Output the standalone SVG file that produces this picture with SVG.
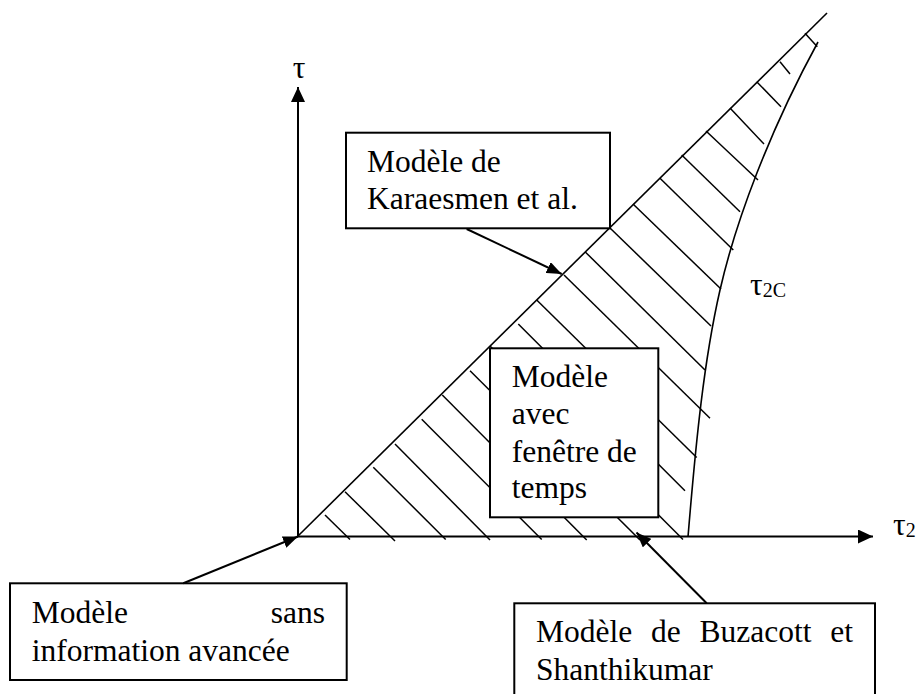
<svg xmlns="http://www.w3.org/2000/svg" width="918" height="694" viewBox="0 0 918 694">
<style>
.t{font-family:"Liberation Serif","Times New Roman",serif;font-size:31.5px;fill:#000}
.s{font-family:"Liberation Serif","Times New Roman",serif;font-size:20px;fill:#000}
.h line{stroke:#000;stroke-width:1.5}
.box{fill:#fff;stroke:#000;stroke-width:2}
.ax{stroke:#000;stroke-width:2;fill:none}
.ln{stroke:#000;stroke-width:1.6;fill:none}
.cn line{stroke:#000;stroke-width:2}
</style>
<defs>
<marker id="ah" markerUnits="userSpaceOnUse" markerWidth="15" markerHeight="14" refX="15" refY="7" orient="auto" viewBox="0 0 15 14"><path d="M0,0 L15,7 L0,14 z" fill="#000"/></marker>
<marker id="ac" markerUnits="userSpaceOnUse" markerWidth="15" markerHeight="12" refX="15" refY="6" orient="auto" viewBox="0 0 15 12"><path d="M0,0 L15,6 L0,12 z" fill="#000"/></marker>
</defs>
<rect width="918" height="694" fill="#fff"/>
<g id="hatching" class="h">
<line x1="325" y1="515" x2="350" y2="539.5"/>
<line x1="345" y1="491.7" x2="395" y2="541"/>
<line x1="373.3" y1="467.3" x2="445.7" y2="539.5"/>
<line x1="395" y1="444" x2="490" y2="540"/>
<line x1="421.7" y1="419.3" x2="541.7" y2="539.5"/>
<line x1="442.3" y1="395" x2="586.7" y2="540"/>
<line x1="470" y1="370.7" x2="640" y2="540"/>
<line x1="490" y1="346" x2="683" y2="539.5"/>
<line x1="518.3" y1="324" x2="685" y2="490.7"/>
<line x1="536.7" y1="300" x2="696.7" y2="457.5"/>
<line x1="564" y1="275" x2="710" y2="418.3"/>
<line x1="585" y1="251.7" x2="705" y2="370"/>
<line x1="610" y1="228" x2="711" y2="326"/>
<line x1="633" y1="204" x2="721" y2="289"/>
<line x1="660" y1="178.3" x2="733.3" y2="250"/>
<line x1="681.7" y1="155" x2="740" y2="211.7"/>
<line x1="706" y1="131" x2="758" y2="180"/>
<line x1="730" y1="108" x2="764" y2="144"/>
<line x1="756.7" y1="81.7" x2="781" y2="106.7"/>
<line x1="780" y1="61.7" x2="790" y2="74"/>
<line x1="805" y1="33.3" x2="817.3" y2="46.7"/>
</g>
<g id="boundaries">
<line class="ln" x1="298" y1="536" x2="827" y2="13"/>
<path class="ln" d="M688,537 C696,440 704,360 720,290 C736,220 770,130 818,42"/>
</g>
<g id="axes">
<line class="ax" x1="298" y1="537" x2="298" y2="87" marker-end="url(#ah)"/>
<line class="ax" x1="297" y1="536.5" x2="873" y2="536.5" marker-end="url(#ah)"/>
<text class="t" x="299" y="78" text-anchor="middle">τ</text>
<text class="t" x="893" y="535">τ<tspan class="s" dy="2">2</tspan></text>
<text class="t" x="750" y="295">τ<tspan class="s" dy="2">2C</tspan></text>
</g>
<g id="node-karaesmen">
<rect class="box" x="346" y="132.7" width="264" height="95.6"/>
<text class="t" x="367" y="171.7">Modèle de</text>
<text class="t" x="367" y="209">Karaesmen et al.</text>
</g>
<g id="node-fenetre">
<rect class="box" x="490" y="348.3" width="168.3" height="169"/>
<text class="t" x="511.7" y="387.3">Modèle</text>
<text class="t" x="511.7" y="424">avec</text>
<text class="t" x="511.7" y="461.7">fenêtre de</text>
<text class="t" x="511.7" y="498.3">temps</text>
</g>
<g id="node-sans">
<rect class="box" x="10" y="583.3" width="336.7" height="96.7"/>
<text class="t" x="31.7" y="623.3">Modèle</text>
<text class="t" x="325" y="623.3" text-anchor="end">sans</text>
<text class="t" x="31.7" y="660.7">information avancée</text>
</g>
<g id="node-buzacott">
<rect class="box" x="514.3" y="603.3" width="360.7" height="100"/>
<text class="t" x="536" y="641.7">Modèle</text>
<text class="t" x="651" y="641.7">de</text>
<text class="t" x="699.5" y="641.7">Buzacott</text>
<text class="t" x="853" y="641.7" text-anchor="end">et</text>
<text class="t" x="536" y="680">Shanthikumar</text>
</g>
<g id="connectors" class="cn">
<line x1="466.7" y1="229" x2="561.7" y2="274" marker-end="url(#ac)"/>
<line x1="183.3" y1="583.3" x2="298" y2="536.5" marker-end="url(#ac)"/>
<line x1="706.7" y1="603.3" x2="636.5" y2="532.5" marker-end="url(#ac)"/>
</g>
</svg>
